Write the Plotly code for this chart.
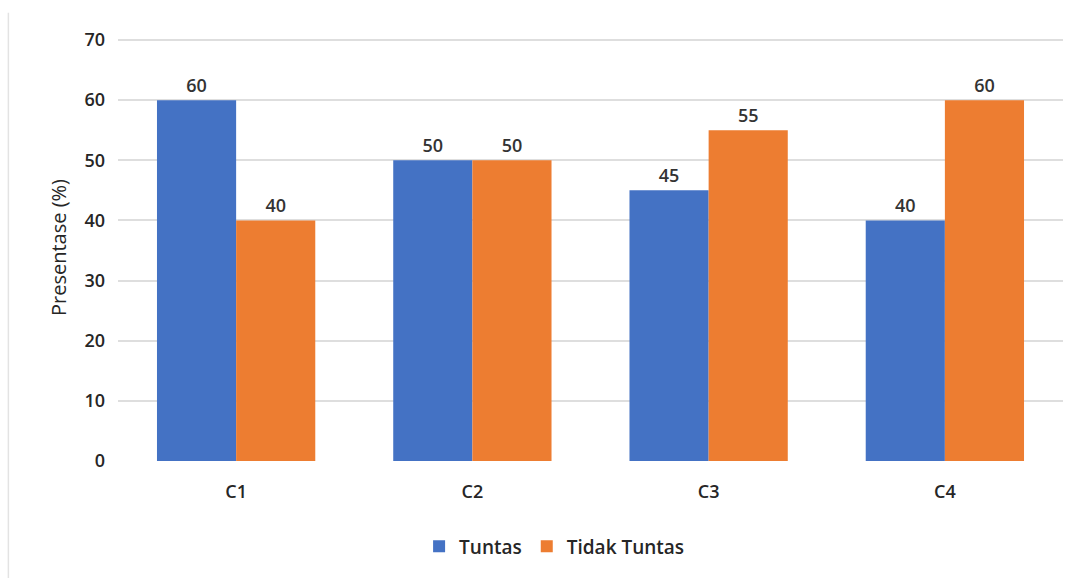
import plotly.graph_objects as go

categories = ["C1", "C2", "C3", "C4"]
tuntas = [60, 50, 45, 40]
tidak_tuntas = [40, 50, 55, 60]
y_ticks = [0, 10, 20, 30, 40, 50, 60, 70]

BLUE = "#4472C4"
ORANGE = "#ED7D31"
TXT = "#262626"
FONT = "Open Sans"

fig = go.Figure()
fig.add_trace(go.Bar(
    x=categories, y=tuntas, name="Tuntas", marker=dict(color=BLUE, line=dict(width=0)),
    text=[str(v) for v in tuntas], textposition="outside",
    textfont=dict(family=FONT, size=18, color="#333333", weight=600), cliponaxis=False,
))
fig.add_trace(go.Bar(
    x=categories, y=tidak_tuntas, name="Tidak Tuntas", marker=dict(color=ORANGE, line=dict(width=0)),
    text=[str(v) for v in tidak_tuntas], textposition="outside",
    textfont=dict(family=FONT, size=18, color="#333333", weight=600), cliponaxis=False,
))

fig.update_layout(
    width=1077, height=578,
    margin=dict(l=118, r=14, t=34, b=117),
    paper_bgcolor="white", plot_bgcolor="white",
    barmode="group", bargap=0.33, bargroupgap=0,
    font=dict(family=FONT, color=TXT),
    showlegend=True,
    legend=dict(orientation="h", x=0.462, xanchor="center", y=-0.2, yanchor="middle",
                font=dict(family=FONT, size=19, color=TXT, weight=600),
                itemwidth=30, traceorder="normal"),
    xaxis=dict(showgrid=False, showline=False, zeroline=False, ticks="", ticklabelstandoff=18,
               tickfont=dict(family=FONT, size=18, color=TXT, weight=600)),
    yaxis=dict(range=[0, 71], tickvals=y_ticks, showgrid=True, gridcolor="#DEDEDE", gridwidth=1.5,
               zeroline=False, showline=False, ticks="", ticklabelstandoff=12,
               tickfont=dict(family=FONT, size=18, color=TXT, weight=600),
               title=dict(text="Presentase (%)", font=dict(family=FONT, size=20, color=TXT), standoff=12)),
    shapes=[dict(type="line", xref="paper", yref="paper", x0=-0.116, x1=-0.116, y0=1.05, y1=-0.28,
                 line=dict(color="#E3E3E3", width=1.5))],
)

fig.write_html("out.html")
